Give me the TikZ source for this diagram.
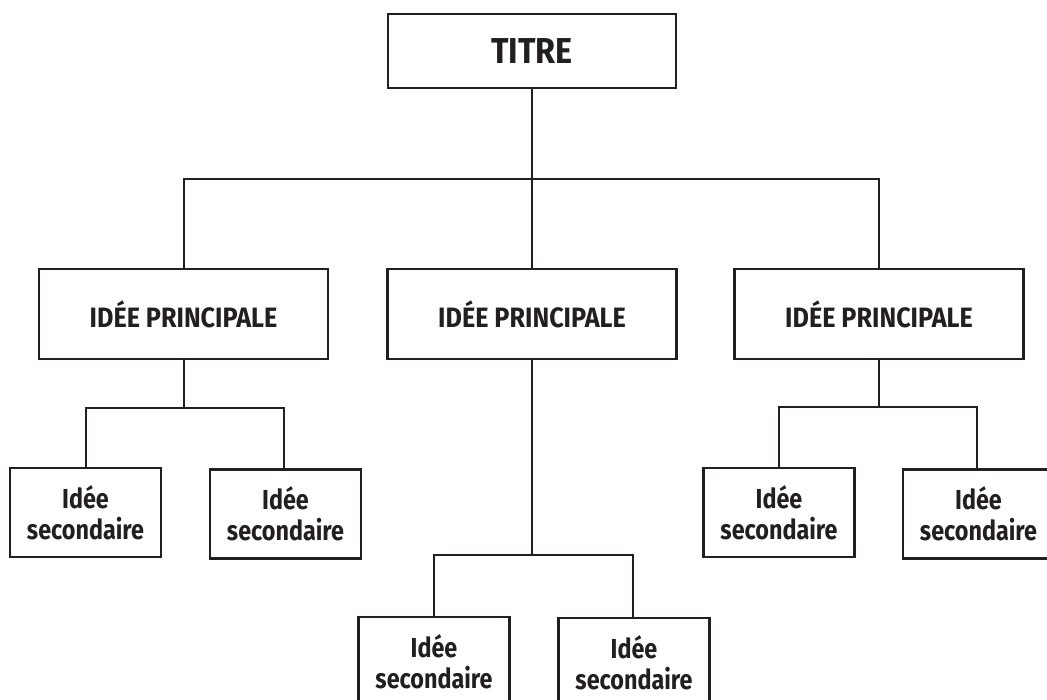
\documentclass[tikz,border=0pt]{standalone}
\usepackage{fontspec}
\newfontfamily\dfont{Fira Sans}[FakeStretch=0.9]
\newfontfamily\sfontx{Fira Sans}[FakeStretch=0.85]
\definecolor{ink}{RGB}{35,31,32}
\begin{document}
\begin{tikzpicture}[x=1pt,y=-1pt,
  box/.style={draw=ink,line width=2.6pt,fill=white,inner sep=0pt,text=ink,align=center},
  titlebox/.style={box,minimum width=288pt,minimum height=74pt,font=\dfont\bfseries\fontsize{36}{38}\selectfont},
  mainbox/.style={box,minimum width=289pt,minimum height=90pt,font=\dfont\bfseries\fontsize{28}{30}\selectfont},
  subbox/.style={box,minimum width=151pt,minimum height=89pt,font=\sfontx\bfseries\fontsize{27.5}{31}\selectfont},
  conn/.style={draw=ink,line width=2pt}]
\useasboundingbox (0,0) rectangle (1047,700);
\clip (0,0) rectangle (1047,700);
\fill[white] (0,0) rectangle (1047,700);
% junctions
\coordinate (j0) at (532,179);
\coordinate (j1) at (184,408);
\coordinate (j2) at (532,555);
\coordinate (j3) at (879,407);
% nodes
\node[titlebox] (titre) at (532,51) {TITRE};
\node[mainbox] (p1) at (183.5,314) {IDÉE PRINCIPALE};
\node[mainbox] (p2) at (532,314) {IDÉE PRINCIPALE};
\node[mainbox] (p3) at (879,314) {IDÉE PRINCIPALE};
\node[subbox] (s1) at (85.5,512.5) {Idée\\secondaire};
\node[subbox] (s2) at (285.5,514) {Idée\\secondaire};
\node[subbox] (s3) at (434,661.5) {Idée\\secondaire};
\node[subbox] (s4) at (634,662.5) {Idée\\secondaire};
\node[subbox] (s5) at (779,512.5) {Idée\\secondaire};
\node[subbox] (s6) at (978.5,514) {Idée\\secondaire};
% connectors
\draw[conn] (titre.south) -- (j0);
\draw[conn] ([xshift=0.5pt]p1.north) |- (j0) -| (p3.north);
\draw[conn] (j0) -- (p2.north);
\draw[conn] ([xshift=0.5pt]p1.south) -- ([xshift=0.5pt]p1.south |- j1);
\draw[conn] (s1.north) |- (j1) -| ([xshift=-2pt]s2.north);
\draw[conn] (p2.south) -- (j2);
\draw[conn] (s3.north) |- (j2) -| ([xshift=-1pt]s4.north);
\draw[conn] (p3.south) -- (j3);
\draw[conn] (s5.north) |- (j3) -| ([xshift=-1.5pt]s6.north);
\end{tikzpicture}
\end{document}
